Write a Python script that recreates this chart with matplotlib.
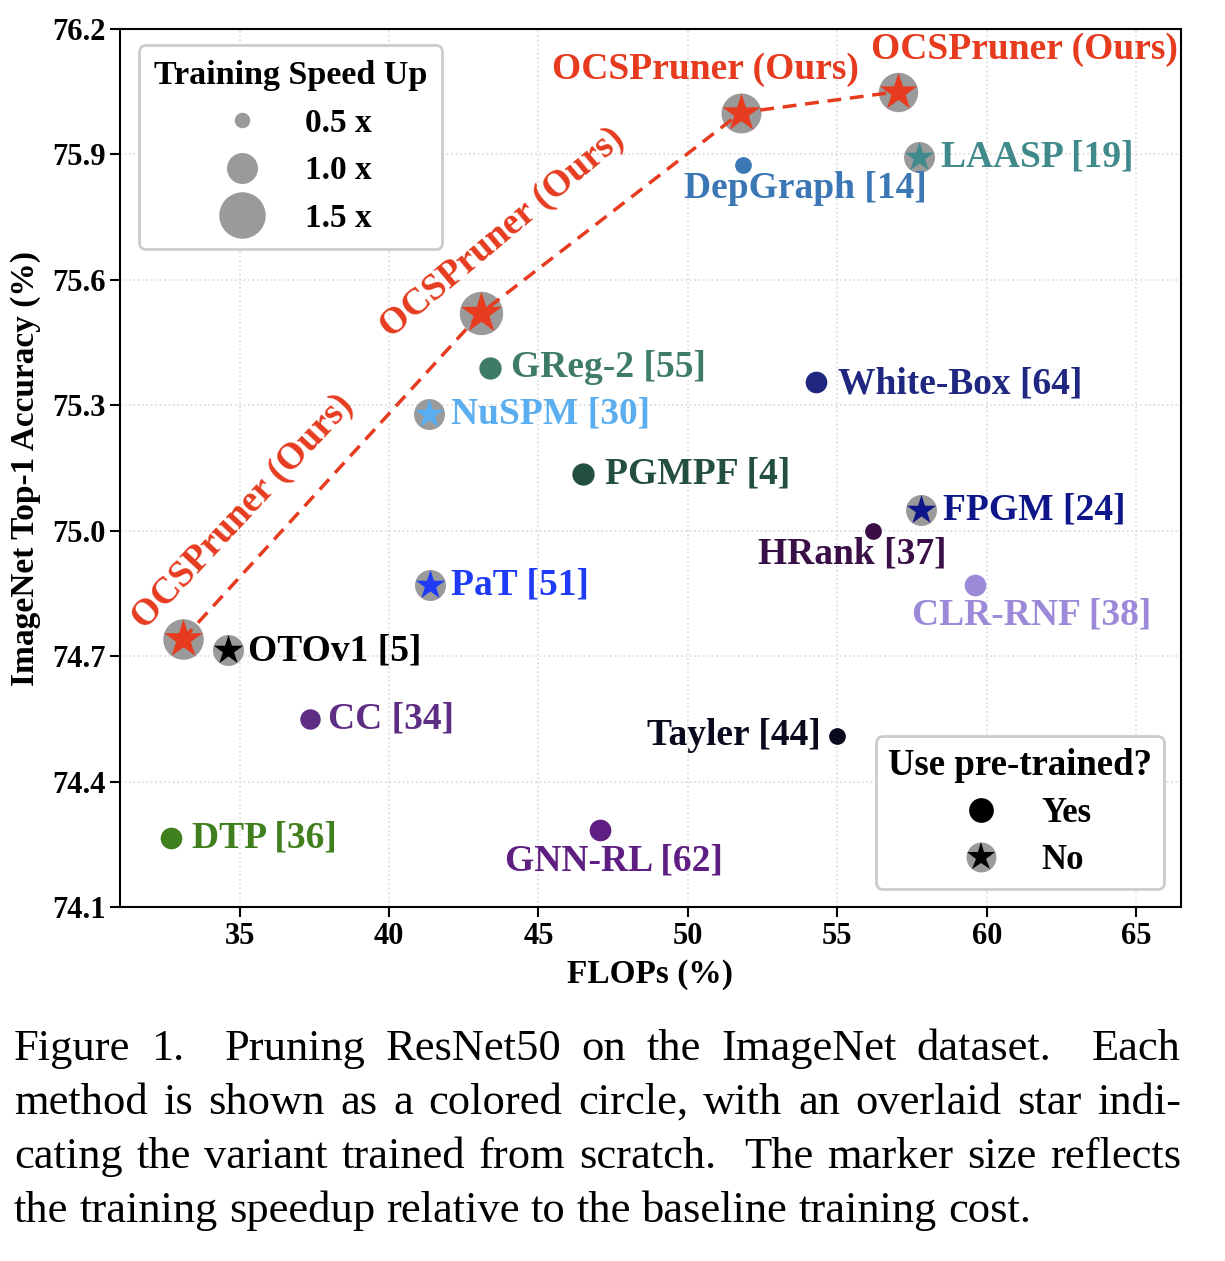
import matplotlib
matplotlib.use("Agg")
import matplotlib.pyplot as plt
from matplotlib.lines import Line2D
from matplotlib.legend_handler import HandlerTuple

plt.rcParams["font.family"] = ["Liberation Serif", "DejaVu Serif"]
plt.rcParams["font.weight"] = "bold"

# data
methods = ["OCSPruner (Ours)", "OCSPruner (Ours)", "OCSPruner (Ours)", "OCSPruner (Ours)",
           "OTOv1 [5]", "CC [34]", "DTP [36]", "GNN-RL [62]", "Tayler [44]",
           "PaT [51]", "NuSPM [30]", "GReg-2 [55]", "PGMPF [4]", "White-Box [64]",
           "HRank [37]", "FPGM [24]", "CLR-RNF [38]", "DepGraph [14]", "LAASP [19]"]
flops = [33.1, 43.07, 51.77, 57.02,
         34.6, 37.35, 32.7, 47.05, 55.0,
         41.37, 41.33, 43.37, 46.5, 54.3,
         56.2, 57.8, 59.6, 51.83, 57.73]
acc = [74.74, 75.52, 76.0, 76.05,
       74.715, 74.55, 74.265, 74.285, 74.51,
       74.87, 75.28, 75.39, 75.135, 75.355,
       75.0, 75.05, 74.87, 75.875, 75.895]
speedup = [1.31, 1.4, 1.29, 1.27,
           1.0, 0.66, 0.7, 0.7, 0.54,
           1.0, 1.0, 0.72, 0.72, 0.7,
           0.54, 1.0, 0.7, 0.54, 1.0]
pretrained = [False, False, False, False,
              False, True, True, True, True,
              False, False, True, True, True,
              True, False, True, True, False]

colors = ["#E63B1F", "#E63B1F", "#E63B1F", "#E63B1F",
          "#000000", "#5E2D84", "#3F7F1E", "#5F1E82", "#0A0A1E",
          "#1F3BF5", "#5AAEF0", "#3F7C68", "#234E42", "#1F2780",
          "#3A0F47", "#0E168A", "#9C8AD9", "#3B76B5", "#418A8C"]

# label placement: (dx, dy) in pixels from the point, ha, rotation
label_pos = [(60, 128, "center", 47), (22, 80, "center", 40), (-35, 43, "center", 0), (127, 42, "center", 0),
             (20, -1, "left", 0), (18, 0, "left", 0), (21, 0, "left", 0), (14, -31, "center", 0), (-17, 0, "right", 0),
             (21, 0, "left", 0), (22, 0, "left", 0), (21, 0, "left", 0), (22, 0, "left", 0), (22, -2, "left", 0),
             (-21, -23, "center", 0), (22, 0, "left", 0), (57, -30, "center", 0), (63, -24, "center", 0), (22, 0, "left", 0)]

speed_legend = [0.5, 1.0, 1.5]
caption = ["Figure 1.  Pruning ResNet50 on the ImageNet dataset.  Each",
           "method is shown as a colored circle, with an overlaid star indi-",
           "cating the variant trained from scratch.  The marker size reflects",
           "the training speedup relative to the baseline training cost."]

GRAY = "#9A9A9A"
MS_UNIT = 22.3  # marker diameter in points for speedup 1.0

W, H = 1225, 1261
fig = plt.figure(figsize=(W / 100, H / 100), dpi=100)
ax = fig.add_axes([120 / W, 1 - 907 / H, (1181 - 120) / W, (907 - 29) / H])

for i in range(len(methods)):
    ms = MS_UNIT * speedup[i]
    if pretrained[i]:
        ax.scatter(flops[i], acc[i], s=ms ** 2, color=colors[i], zorder=3, linewidths=0)
    else:
        ax.scatter(flops[i], acc[i], s=ms ** 2, color=GRAY, zorder=2, linewidths=0)
        ax.scatter(flops[i], acc[i], s=ms ** 2, marker="*", color=colors[i], zorder=3, linewidths=0)
    dx, dy, ha, rot = label_pos[i]
    ax.annotate(methods[i], (flops[i], acc[i]), xytext=(dx * 0.72, dy * 0.72),
                textcoords="offset points", ha=ha, va="center", rotation=rot,
                rotation_mode="anchor", fontsize=27, fontweight="bold", color=colors[i], zorder=5)

ours = [i for i, m in enumerate(methods) if "Ours" in m]
ax.plot([flops[i] for i in ours], [acc[i] for i in ours], ls=(0, (4, 2.5)),
        color="#E63B1F", lw=2.5, zorder=4)

ax.set_xlim(31.0, 66.5)
ax.set_ylim(74.1, 76.2)
ax.set_xticks([35, 40, 45, 50, 55, 60, 65])
ax.set_yticks([74.1, 74.4, 74.7, 75.0, 75.3, 75.6, 75.9, 76.2])
ax.set_yticklabels(["74.1", "74.4", "74.7", "75.0", "75.3", "75.6", "75.9", "76.2"])
ax.tick_params(labelsize=22, width=1.5, length=7)
for s in ax.spines.values():
    s.set_linewidth(1.5)
ax.grid(True, ls=":", color="#d9d9d9", lw=1.2)
ax.set_axisbelow(True)
ax.set_xlabel("FLOPs (%)", fontsize=24, fontweight="bold", labelpad=6)
ax.set_ylabel("ImageNet Top-1 Accuracy (%)", fontsize=24, fontweight="bold", labelpad=8)

# legend 1: speed up sizes
h1 = [Line2D([], [], marker="o", ls="", ms=MS_UNIT * v, color=GRAY, mew=0) for v in speed_legend]
leg1 = ax.legend(h1, [f"{v:.1f} x" for v in speed_legend], title="Training Speed Up",
                 loc="upper left", bbox_to_anchor=(19 / 1061, 1 - 16 / 878), borderaxespad=0,
                 fontsize=24, title_fontsize=24.5, handlelength=1.9, handletextpad=0.93,
                 labelspacing=0.5, borderpad=0.45, framealpha=1, edgecolor="#cccccc", fancybox=True)
leg1.get_title().set_fontweight("bold")
leg1.get_frame().set_linewidth(2)
ax.add_artist(leg1)

# legend 2: pretrained or not
yes = Line2D([], [], marker="o", ls="", ms=17.8, color="black", mew=0)
no = (Line2D([], [], marker="o", ls="", ms=21.5, color=GRAY, mew=0),
      Line2D([], [], marker="*", ls="", ms=21.5, color="black", mew=0))
leg2 = ax.legend([yes, no], ["Yes", "No"], title="Use pre-trained?",
                 handler_map={tuple: HandlerTuple(ndivide=1)},
                 loc="lower right", bbox_to_anchor=(1 - 17 / 1061, 18 / 878), borderaxespad=0,
                 fontsize=25, title_fontsize=26.5, handlelength=1.9, handletextpad=0.8,
                 labelspacing=0.4, borderpad=0.35, framealpha=1, edgecolor="#cccccc", fancybox=True)
leg2.get_title().set_fontweight("bold")
leg2.get_frame().set_linewidth(2)

# caption, justified
renderer = fig.canvas.get_renderer()
left, right = 14, 1181
fs_cap = 32
for k, line in enumerate(caption):
    y = 1 - (1060 + 54 * k) / H
    parts = line.split(" ")
    words, weights = [], []
    for p in parts:
        if p:
            words.append(p)
            weights.append(1)
        elif weights:
            weights[-1] += 1
    weights = weights[:-1]
    texts = [fig.text(0, y, w, fontsize=fs_cap, fontweight="normal", va="baseline") for w in words]
    widths = [t.get_window_extent(renderer).width for t in texts]
    if k < len(caption) - 1:
        unit = (right - left - sum(widths)) / sum(weights)
    else:
        unit = 0.25 * fs_cap / 0.72
    x = left
    for j, (t, w) in enumerate(zip(texts, widths)):
        t.set_x(x / W)
        if j < len(weights):
            x += w + unit * weights[j]

fig.savefig("out.png", dpi=100)
